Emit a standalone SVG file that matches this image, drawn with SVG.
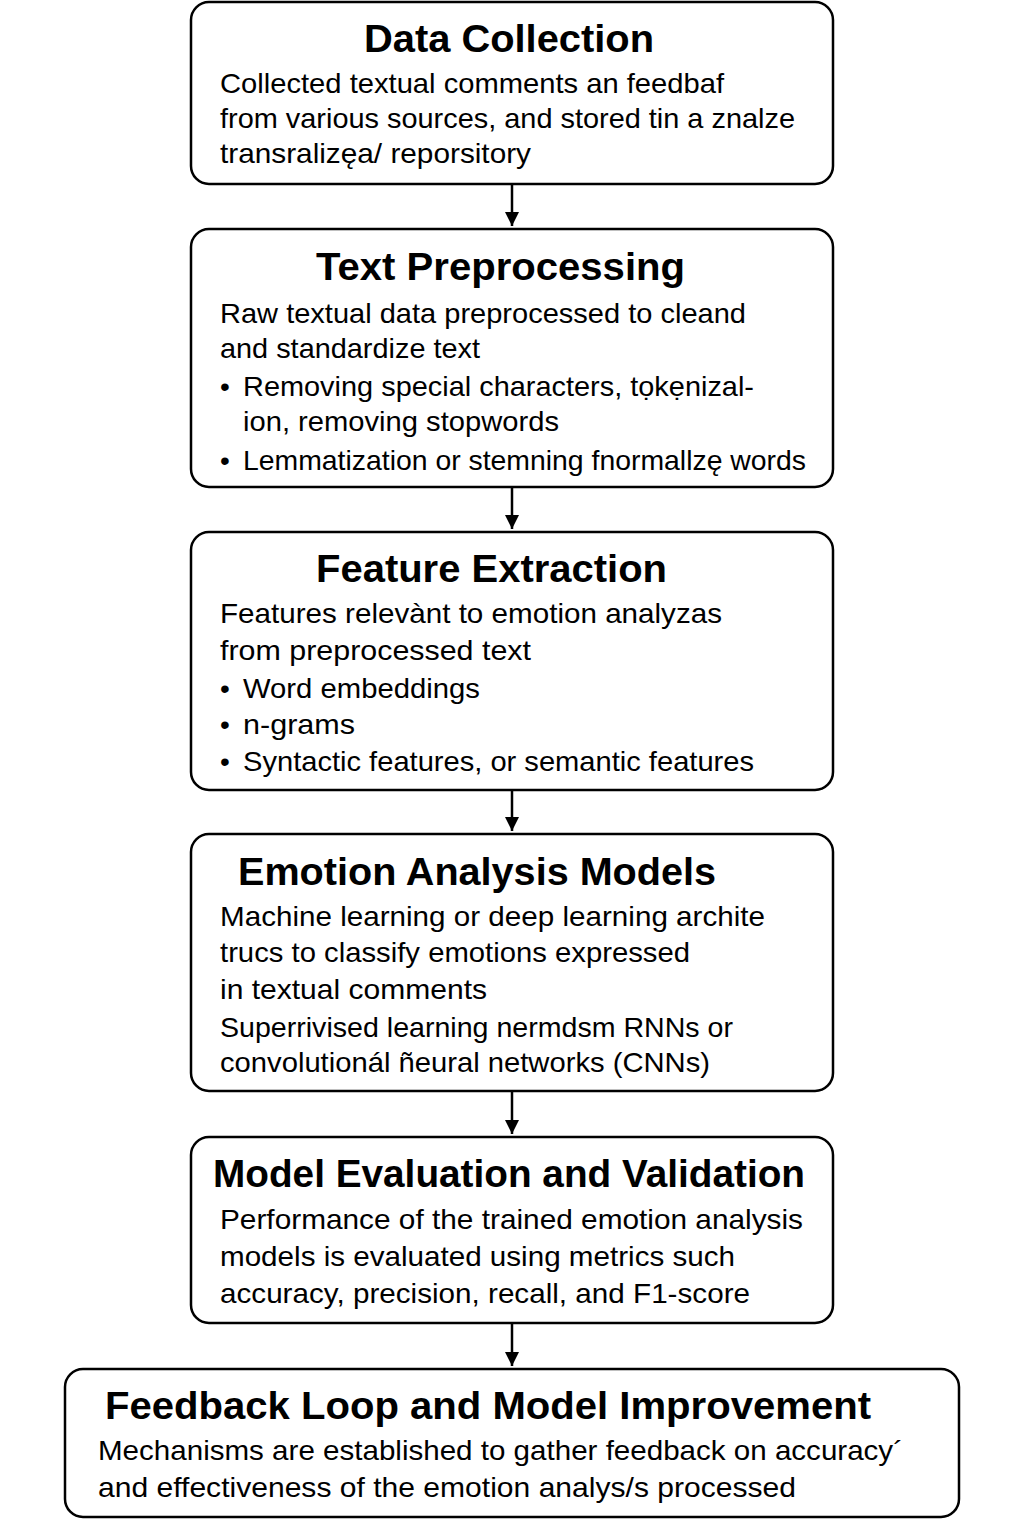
<svg xmlns="http://www.w3.org/2000/svg" width="1024" height="1536" viewBox="0 0 1024 1536">
<defs>
<style>
.box{fill:#fff;stroke:#000;stroke-width:2.5}
.t{font-family:"Liberation Sans",Arial,sans-serif;font-weight:bold;font-size:38px;fill:#000}
.b{font-family:"Liberation Sans",Arial,sans-serif;font-size:28px;fill:#000}
.c{stroke:#000;stroke-width:2.5;fill:none}
</style>
<marker id="ah" viewBox="0 0 14 14" refX="14" refY="7" markerWidth="14" markerHeight="14" markerUnits="userSpaceOnUse" orient="auto">
<path d="M0,0 L14,7 L0,14 z" fill="#000"/>
</marker>
</defs>
<rect width="1024" height="1536" fill="#fff"/>
<g id="connectors">
<line class="c" x1="512" y1="185" x2="512" y2="226" marker-end="url(#ah)"/>
<line class="c" x1="512" y1="488" x2="512" y2="529" marker-end="url(#ah)"/>
<line class="c" x1="512" y1="791" x2="512" y2="831" marker-end="url(#ah)"/>
<line class="c" x1="512" y1="1092" x2="512" y2="1134" marker-end="url(#ah)"/>
<line class="c" x1="512" y1="1324" x2="512" y2="1366" marker-end="url(#ah)"/>
</g>
<g id="n1">
<rect class="box" x="191" y="2" width="642" height="182" rx="18"/>
<text class="t" x="364" y="52" textLength="290" lengthAdjust="spacingAndGlyphs">Data Collection</text>
<text class="b" x="220" y="93" textLength="504" lengthAdjust="spacingAndGlyphs">Collected textual comments an feedbaf</text>
<text class="b" x="220" y="128" textLength="575" lengthAdjust="spacingAndGlyphs">from various sources, and stored tin a znalze</text>
<text class="b" x="220" y="163" textLength="311" lengthAdjust="spacingAndGlyphs">transralizęa/ reporsitory</text>
</g>
<g id="n2">
<rect class="box" x="191" y="229" width="642" height="258" rx="18"/>
<text class="t" x="316" y="280" textLength="369" lengthAdjust="spacingAndGlyphs">Text Preprocessing</text>
<text class="b" x="220" y="323" textLength="526" lengthAdjust="spacingAndGlyphs">Raw textual data preprocessed to cleand</text>
<text class="b" x="220" y="358" textLength="260" lengthAdjust="spacingAndGlyphs">and standardize text</text>
<text class="b" x="220" y="396">•</text>
<text class="b" x="243" y="396" textLength="511" lengthAdjust="spacingAndGlyphs">Removing special characters, tọkẹnizal-</text>
<text class="b" x="243" y="431" textLength="316" lengthAdjust="spacingAndGlyphs">ion, removing stopwords</text>
<text class="b" x="220" y="470">•</text>
<text class="b" x="243" y="470" textLength="563" lengthAdjust="spacingAndGlyphs">Lemmatization or stemning fnormallzę words</text>
</g>
<g id="n3">
<rect class="box" x="191" y="532" width="642" height="258" rx="18"/>
<text class="t" x="316" y="582" textLength="351" lengthAdjust="spacingAndGlyphs">Feature Extraction</text>
<text class="b" x="220" y="623" textLength="502" lengthAdjust="spacingAndGlyphs">Features relevànt to emotion analyzas</text>
<text class="b" x="220" y="660" textLength="311" lengthAdjust="spacingAndGlyphs">from preprocessed text</text>
<text class="b" x="220" y="698">•</text>
<text class="b" x="243" y="698" textLength="237" lengthAdjust="spacingAndGlyphs">Word embeddings</text>
<text class="b" x="220" y="734">•</text>
<text class="b" x="243" y="734" textLength="112" lengthAdjust="spacingAndGlyphs">n-grams</text>
<text class="b" x="220" y="771">•</text>
<text class="b" x="243" y="771" textLength="511" lengthAdjust="spacingAndGlyphs">Syntactic features, or semantic features</text>
</g>
<g id="n4">
<rect class="box" x="191" y="834" width="642" height="257" rx="18"/>
<text class="t" x="238" y="885" textLength="478" lengthAdjust="spacingAndGlyphs">Emotion Analysis Models</text>
<text class="b" x="220" y="926" textLength="545" lengthAdjust="spacingAndGlyphs">Machine learning or deep learning archite</text>
<text class="b" x="220" y="962" textLength="470" lengthAdjust="spacingAndGlyphs">trucs to classify emotions expressed</text>
<text class="b" x="220" y="999" textLength="267" lengthAdjust="spacingAndGlyphs">in textual comments</text>
<text class="b" x="220" y="1037" textLength="513" lengthAdjust="spacingAndGlyphs">Superrivised learning nermdsm RNNs or</text>
<text class="b" x="220" y="1072" textLength="490" lengthAdjust="spacingAndGlyphs">convolutionál ñeural networks (CNNs)</text>
</g>
<g id="n5">
<rect class="box" x="191" y="1137" width="642" height="186" rx="18"/>
<text class="t" x="213" y="1187" textLength="592" lengthAdjust="spacingAndGlyphs">Model Evaluation and Validation</text>
<text class="b" x="220" y="1229" textLength="583" lengthAdjust="spacingAndGlyphs">Performance of the trained emotion analysis</text>
<text class="b" x="220" y="1266" textLength="515" lengthAdjust="spacingAndGlyphs">models is evaluated using metrics such</text>
<text class="b" x="220" y="1303" textLength="530" lengthAdjust="spacingAndGlyphs">accuracy, precision, recall, and F1-score</text>
</g>
<g id="n6">
<rect class="box" x="65" y="1369" width="894" height="148" rx="18"/>
<text class="t" x="105" y="1419" textLength="766" lengthAdjust="spacingAndGlyphs">Feedback Loop and Model Improvement</text>
<text class="b" x="98" y="1460" textLength="805" lengthAdjust="spacingAndGlyphs">Mechanisms are established to gather feedback on accuracy´</text>
<text class="b" x="98" y="1497" textLength="698" lengthAdjust="spacingAndGlyphs">and effectiveness of the emotion analys/s processed</text>
</g>
</svg>
